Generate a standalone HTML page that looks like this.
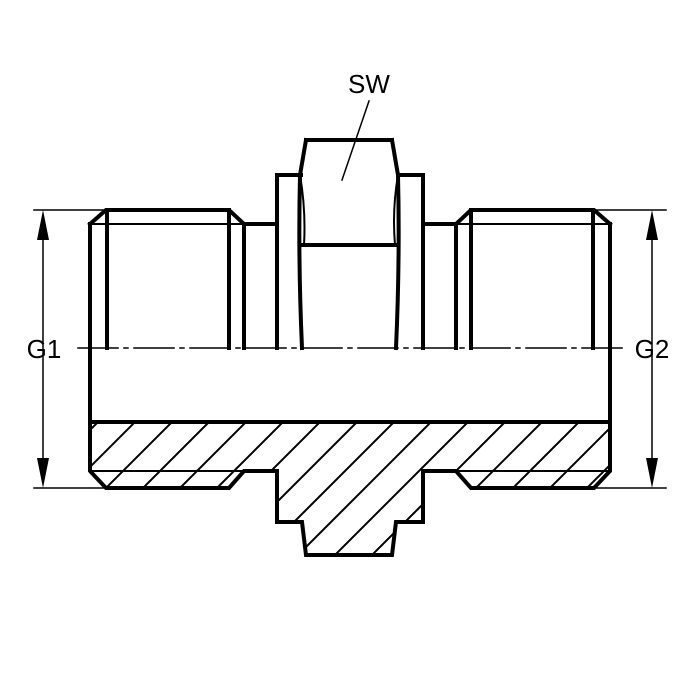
<!DOCTYPE html>
<html><head><style>html,body{margin:0;padding:0;background:#fff}svg{display:block}</style></head>
<body>
<svg width="700" height="700" viewBox="0 0 700 700" xmlns="http://www.w3.org/2000/svg">
<defs>
<clipPath id="hc">
<path d="M90,422 L610,422 L610,471 L594,488 L471,488 L456,471 L423,471 L423,522 L396,522 L392,555 L306,555 L302,522 L277,522 L277,471 L244,471 L229,488 L106,488 L90,471 Z"/>
</clipPath>
</defs>
<g stroke="#000" fill="none" stroke-linecap="square">
<g clip-path="url(#hc)" stroke-width="2">
<path d="M60,460 L100,420 M60,497 L140,417 M60,534 L180,414 M60,571 L220,411 M80,588 L260,408 M117,588 L300,405 M154,588 L340,402 M191,588 L380,399 M228,588 L420,396 M265,588 L460,393 M302,588 L500,390 M339,588 L540,387 M376,588 L580,384 M413,588 L620,381 M450,588 L640,398 M487,588 L640,435 M524,588 L640,472 M561,588 L640,509 M598,588 L640,546"/>
</g>
<path stroke-width="4" d="M90,422 L610,422 M90,224 L90,471 L106,488 L229,488 L244,471 L277,471 L277,522 L302,522 L306,555 L392,555 L396,522 L423,522 L423,471 L456,471 L471,488 L594,488 L610,471 L610,224"/>
<path stroke-width="2" d="M90,471 L277,471 M423,471 L610,471"/>
<path stroke-width="4" d="M90,224 L106,210 L229,210 L244,224 L244,348 M107,210 L107,348 M229,210 L229,348 M244,224 L277,224 M277,348 L277,175 L301,175"/>
<path stroke-width="2" d="M90,224 L244,224"/>
<path stroke-width="4" d="M610,224 L594,210 L471,210 L456,224 L456,348 M593,210 L593,348 M471,210 L471,348 M456,224 L423,224 M423,348 L423,175 L399,175"/>
<path stroke-width="2" d="M610,224 L456,224"/>
<path stroke-width="4" d="M306,140 L392,140 M306,140 L300,175 Q298,260 302,348 M392,140 L398,175 Q400,260 396,348 M303,245 L395,245"/>
<path stroke-width="2" d="M300,175 Q306,210 304,245 M398,175 Q392,210 395,245"/>
<path stroke-width="1.5" d="M34,210 L106,210 M34,488 L106,488 M594,210 L666,210 M594,488 L666,488 M43,225 L43,473 M652,225 L652,473 M369,101 L342,180"/>
<path stroke-width="1.5" stroke-dasharray="40,6,4,6" d="M78,348 L622,348"/>
</g>
<g fill="#000">
<path d="M43,210 L37,240 L49,240 Z M43,488 L37,458 L49,458 Z M652,210 L646,240 L658,240 Z M652,488 L646,458 L658,458 Z"/>
</g>
<g font-family="Liberation Sans, sans-serif" font-size="26" fill="#000">
<text x="369" y="93" text-anchor="middle">SW</text>
<text x="44" y="358" text-anchor="middle">G1</text>
<text x="652" y="358" text-anchor="middle">G2</text>
</g>
</svg>
</body></html>
